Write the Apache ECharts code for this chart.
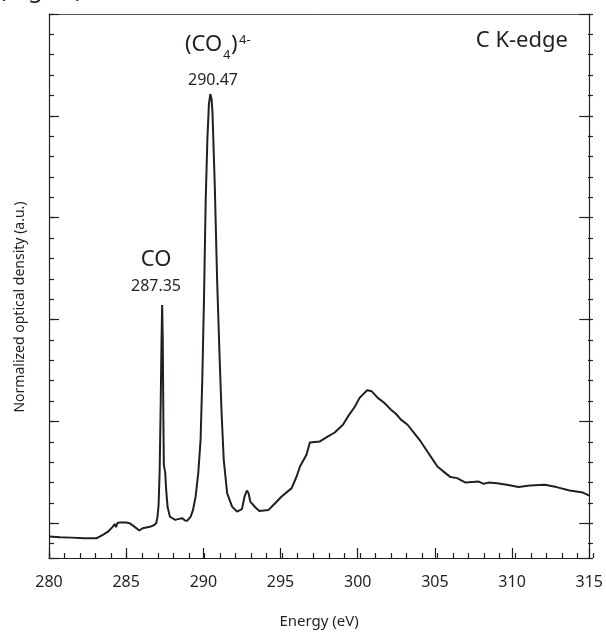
<!DOCTYPE html>
<html>
<head>
<meta charset="utf-8">
<script src="https://cdn.jsdelivr.net/npm/echarts@6/dist/echarts.min.js"></script>
<style>
  html, body { margin: 0; padding: 0; background: #fff; }
  #chart { width: 606px; height: 635px; }
</style>
</head>
<body>
<div id="chart"></div>
<script>
// C K-edge XANES spectrum (arbitrary units)
const energy = [280.00, 280.71, 281.46, 282.25, 283.07, 283.28, 283.54, 283.82, 284.14, 284.25,
  284.34, 284.44, 284.57, 285.00, 285.21, 285.53, 285.85, 286.07, 286.61, 286.82,
  286.95, 287.03, 287.10, 287.17, 287.24, 287.29, 287.33, 287.37, 287.41, 287.44,
  287.53, 287.59, 287.68, 287.83, 288.00, 288.17, 288.43, 288.64, 288.81, 288.96,
  289.18, 289.33, 289.50, 289.67, 289.82, 289.93, 290.04, 290.15, 290.26, 290.36,
  290.45, 290.53, 290.59, 290.74, 290.89, 291.05, 291.18, 291.32, 291.54, 291.86,
  292.18, 292.50, 292.67, 292.82, 292.93, 293.04, 293.36, 293.62, 294.22, 294.65,
  295.07, 295.72, 296.04, 296.26, 296.68, 296.90, 297.55, 298.08, 298.51, 299.04,
  299.37, 299.80, 300.12, 300.61, 300.91, 301.30, 301.73, 302.15, 302.47, 302.80,
  303.23, 303.66, 304.08, 304.51, 304.94, 305.16, 305.48, 306.01, 306.44, 306.98,
  307.84, 308.16, 308.48, 309.02, 309.66, 310.41, 311.16, 312.12, 312.88, 313.73,
  314.59, 315.00]
const density = [1.05, 1.02, 1.00, 0.97, 0.97, 1.05, 1.16, 1.29, 1.54, 1.67,
  1.52, 1.72, 1.74, 1.74, 1.71, 1.54, 1.35, 1.46, 1.55, 1.62,
  1.72, 2.03, 2.61, 4.33, 7.77, 10.72, 12.42, 10.72, 6.79, 4.57,
  4.18, 3.34, 2.52, 2.03, 1.95, 1.87, 1.92, 1.95, 1.84, 1.83,
  2.03, 2.36, 3.02, 4.18, 5.80, 8.76, 12.69, 17.53, 20.56, 22.28,
  22.77, 22.53, 21.89, 18.26, 13.67, 9.90, 7.12, 4.82, 3.18, 2.52,
  2.28, 2.40, 3.02, 3.31, 3.18, 2.77, 2.49, 2.31, 2.36, 2.69,
  3.02, 3.43, 4.00, 4.49, 5.07, 5.67, 5.72, 5.97, 6.16, 6.54,
  6.95, 7.41, 7.86, 8.23, 8.18, 7.86, 7.61, 7.28, 7.08, 6.79,
  6.54, 6.13, 5.72, 5.23, 4.74, 4.49, 4.29, 3.97, 3.92, 3.70,
  3.75, 3.64, 3.70, 3.67, 3.59, 3.48, 3.56, 3.59, 3.48, 3.31,
  3.21, 3.06]

const xMin = 280
const xMax = 315
const xMajor = 5
const xMinor = 1
const yTop = 26.7 // frame height in minor-tick units
const yMajor = 5
const yMinor = 1

const font = 'Noto Sans'
const ink = '#231f20'

const chart = echarts.init(document.getElementById('chart'))

// three grids with the same rect: one set of tick axes per grid
const rect = {left: 49, right: 13, top: 14, bottom: 77}

// tick-only y axis; ticks counted down from the top frame
const yTicks = (grid, pos, step, len, line) => ({
  type: 'value',
  gridIndex: grid,
  position: pos,
  inverse: true,
  min: 0,
  max: yTop,
  interval: step,
  axisLine: {show: line, onZero: false, lineStyle: {color: ink, width: 1.2}},
  axisTick: {show: true, inside: true, length: len, lineStyle: {color: ink, width: 1.2}},
  axisLabel: {show: false},
  splitLine: {show: false}
})

const xTicks = (grid, pos, step, len) => ({
  type: 'value',
  gridIndex: grid,
  position: pos,
  min: xMin,
  max: xMax,
  interval: step,
  axisLine: {show: false, onZero: false},
  axisTick: {show: len > 0, inside: true, length: len, lineStyle: {color: ink, width: 1.2}},
  axisLabel: {show: false},
  splitLine: {show: false}
})

const option = {
  animation: false,
  backgroundColor: '#fff',
  grid: [rect, rect, rect],
  xAxis: [{
    type: 'value',
    gridIndex: 0,
    position: 'bottom',
    min: xMin,
    max: xMax,
    interval: xMajor,
    name: 'Energy (eV)',
    nameLocation: 'middle',
    nameGap: 56,
    nameTextStyle: {fontFamily: font, fontSize: 15, color: ink},
    axisLine: {onZero: false, lineStyle: {color: ink, width: 1.2}},
    axisTick: {inside: true, length: 10, lineStyle: {color: ink, width: 1.2}},
    axisLabel: {fontFamily: font, fontSize: 16, color: ink, margin: 16},
    splitLine: {show: false}
  }, {
    type: 'value',
    gridIndex: 0,
    position: 'top',
    min: xMin,
    max: xMax,
    axisLine: {show: true, onZero: false, lineStyle: {color: '#555', width: 1}},
    axisTick: {show: false},
    axisLabel: {show: false},
    splitLine: {show: false}
  },
  xTicks(1, 'bottom', xMinor, 5),
  xTicks(2, 'bottom', xMajor, 0)],
  yAxis: [{
    type: 'value',
    gridIndex: 0,
    position: 'left',
    show: false,
    min: 0,
    max: yTop
  },
  yTicks(0, 'right', yMajor, 10, true),
  yTicks(1, 'left', yMajor, 10, true),
  yTicks(1, 'right', yMinor, 5, false),
  yTicks(2, 'left', yMinor, 5, false)],
  series: [{
    type: 'line',
    xAxisIndex: 0,
    yAxisIndex: 0,
    data: energy.map((e, i) => [e, density[i]]),
    symbol: 'none',
    lineStyle: {color: ink, width: 2},
    silent: true
  }],
  graphic: [
    // fragment of the caption above, cut by the frame
    {type: 'text', left: -1, top: -22, style: {text: '(Mg,Fe)', font: '24px "Noto Sans"', fill: ink}},
    {type: 'text', left: 167, top: -12, style: {text: '2', font: '14px "Noto Sans"', fill: ink}},
    // y-axis name
    {type: 'text', x: 20, y: 307, rotation: Math.PI / 2,
      style: {text: 'Normalized optical density (a.u.)', font: '14px "Noto Sans"', fill: ink,
        align: 'center', verticalAlign: 'middle'}},
    // peak labels
    {type: 'text', x: 185, y: 45, style: {text: '(CO', font: '22px "Noto Sans"', fill: ink, verticalAlign: 'middle'}},
    {type: 'text', x: 223, y: 55, style: {text: '4', font: '13px "Noto Sans"', fill: ink, verticalAlign: 'middle'}},
    {type: 'text', x: 231, y: 45, style: {text: ')', font: '22px "Noto Sans"', fill: ink, verticalAlign: 'middle'}},
    {type: 'text', x: 239, y: 40, style: {text: '4-', font: '13px "Noto Sans"', fill: ink, verticalAlign: 'middle'}},
    {type: 'text', x: 213, y: 80, style: {text: '290.47', font: '16px "Noto Sans"', fill: ink, align: 'center', verticalAlign: 'middle'}},
    {type: 'text', x: 156, y: 260, style: {text: 'CO', font: '22px "Noto Sans"', fill: ink, align: 'center', verticalAlign: 'middle'}},
    {type: 'text', x: 156, y: 286, style: {text: '287.35', font: '16px "Noto Sans"', fill: ink, align: 'center', verticalAlign: 'middle'}},
    {type: 'text', x: 568, y: 41, style: {text: 'C K-edge', font: '22px "Noto Sans"', fill: ink, align: 'right', verticalAlign: 'middle'}}
  ]
}

chart.setOption(option)
</script>
</body>
</html>
